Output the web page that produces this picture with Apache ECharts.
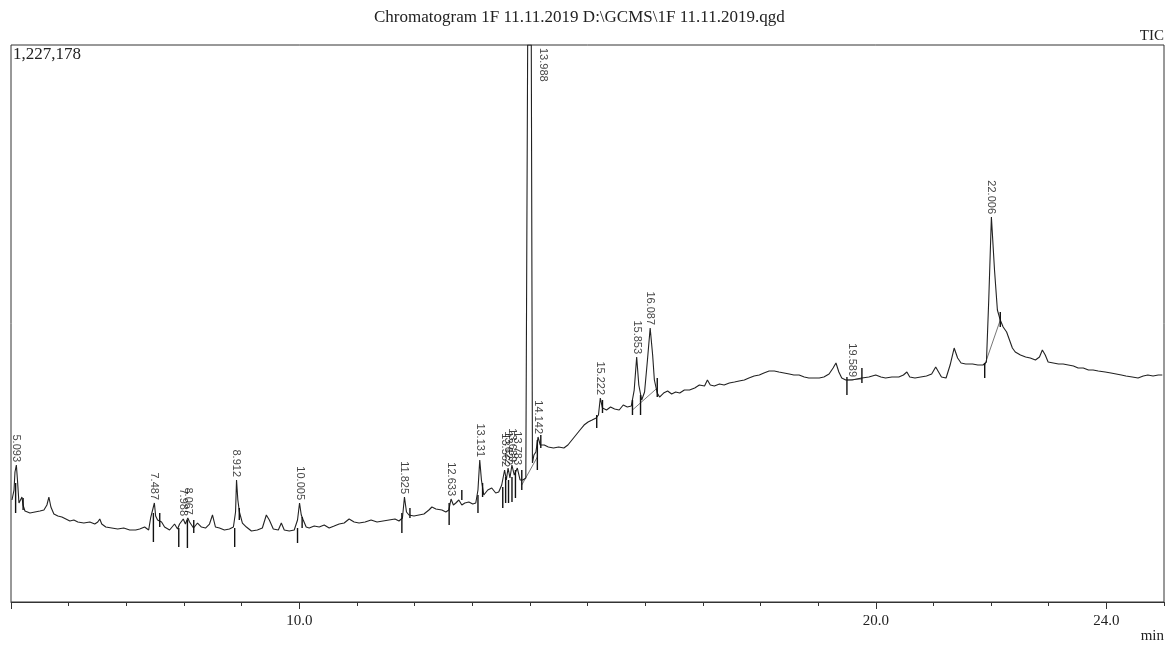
<!DOCTYPE html>
<html><head><meta charset="utf-8">
<script src="https://cdn.jsdelivr.net/npm/echarts@6/dist/echarts.min.js"></script>
<style>html,body{margin:0;padding:0;background:#fff}#c{width:1169px;height:646px}</style>
</head><body><div id="c"></div>
<script>
const chartTitle = 'Chromatogram 1F 11.11.2019 D:\\GCMS\\1F 11.11.2019.qgd';
const yMaxLabel = '1,227,178';
const yMax = 1227178;
const channelName = 'TIC';
const xUnit = 'min';
const xTickLabels = [10, 20, 24];
const xMajorTicks = [5, 10, 20, 24];

const retentionTimes = [
5.017,5.052,5.069,5.093,5.112,5.138,5.164,5.190,5.208,5.242,
5.329,5.415,5.502,5.571,5.623,5.657,5.692,5.744,5.813,5.882,
5.952,6.021,6.090,6.159,6.263,6.367,6.453,6.505,6.540,6.574,
6.644,6.747,6.851,6.955,7.059,7.163,7.232,7.318,7.388,7.422,
7.487,7.509,7.543,7.612,7.664,7.751,7.837,7.889,7.924,7.988,
8.025,8.067,8.097,8.166,8.235,8.304,8.374,8.443,8.495,8.547,
8.616,8.702,8.789,8.858,8.895,8.912,8.935,8.962,9.014,9.083,
9.170,9.273,9.360,9.429,9.481,9.550,9.637,9.689,9.740,9.827,
9.913,9.970,10.005,10.035,10.069,10.120,10.173,10.260,10.346,10.433,
10.519,10.606,10.692,10.779,10.865,10.952,11.038,11.142,11.246,11.349,
11.453,11.557,11.661,11.730,11.790,11.825,11.860,11.903,11.990,12.076,
12.163,12.249,12.301,12.370,12.474,12.543,12.595,12.633,12.674,12.716,
12.768,12.820,12.872,12.941,13.010,13.062,13.100,13.131,13.160,13.201,
13.270,13.339,13.408,13.460,13.512,13.562,13.592,13.622,13.655,13.689,
13.730,13.783,13.830,13.880,13.930,13.962,13.988,14.025,14.045,14.070,
14.105,14.142,14.180,14.250,14.320,14.410,14.500,14.590,14.660,14.730,
14.800,14.870,14.940,15.010,15.080,15.150,15.190,15.222,15.260,15.330,
15.400,15.470,15.550,15.620,15.690,15.760,15.810,15.853,15.890,15.940,
15.990,16.040,16.087,16.130,16.160,16.210,16.250,16.320,16.390,16.460,
16.530,16.600,16.680,16.770,16.860,16.940,17.030,17.080,17.130,17.200,
17.290,17.370,17.460,17.550,17.630,17.720,17.800,17.890,17.980,18.060,
18.150,18.240,18.320,18.410,18.500,18.580,18.670,18.760,18.840,18.930,
19.020,19.100,19.190,19.260,19.310,19.360,19.410,19.480,19.589,19.670,
19.760,19.880,20.000,20.090,20.170,20.280,20.400,20.480,20.540,20.590,
20.680,20.780,20.880,20.970,21.040,21.090,21.140,21.220,21.290,21.360,
21.420,21.480,21.560,21.680,21.770,21.860,21.920,21.960,22.006,22.060,
22.110,22.160,22.210,22.270,22.320,22.370,22.420,22.510,22.600,22.680,
22.770,22.840,22.890,22.940,22.990,23.080,23.170,23.250,23.340,23.430,
23.510,23.600,23.690,23.770,23.860,23.980,24.080,24.170,24.260,24.340,
24.450,24.550,24.640,24.720,24.810,24.900,24.970
];
const ticCounts = [
224700,246700,286400,301800,268800,218100,220300,231300,213700,200500,
196100,198300,200500,202700,213700,231300,209300,193900,189500,187300,
182800,178400,180600,176200,174000,176200,171800,176200,182800,171800,
165200,163000,160800,163000,158600,158600,160800,165200,158600,185100,
218100,189500,180600,176200,165200,158600,171800,160800,171800,182800,
171800,185100,176200,163000,174000,165200,163000,171800,191700,165200,
163000,158600,160800,165200,198300,268800,224700,198300,174000,165200,
156400,158600,163000,191700,180600,160800,158600,174000,158600,156400,
158600,180600,218100,191700,180600,165200,163000,167400,165200,169600,
163000,167400,171800,174000,182800,176200,174000,176200,180600,176200,
178400,180600,182800,178400,185100,231300,198300,191700,189500,191700,
193900,202700,209300,204900,202700,198300,202700,226900,213700,218100,
224700,213700,218100,220300,215900,218100,246700,312800,268800,235700,
246700,251100,240100,242300,257800,290800,268800,295200,273200,301800,
279800,295200,268800,268800,273200,1227178,1227178,1227178,306200,323800,
330500,363500,345900,345900,341500,339300,341500,339300,345900,356900,
367900,378900,389900,396500,400900,405400,412000,449400,427400,423000,
429600,425200,423000,434000,429600,431800,467000,539700,478100,445000,
462600,533100,603600,544100,489100,460400,451600,460400,464800,458200,
462600,460400,467000,467000,471400,478100,475800,489100,478100,475800,
480300,478100,482500,484700,486900,489100,493500,497900,500100,504500,
508900,508900,506700,504500,502300,500100,500100,495700,493500,493500,
493500,495700,502300,515500,526500,506700,493500,489100,489100,491300,
493500,495700,500100,495700,493500,495700,495700,500100,506700,495700,
493500,495700,497900,502300,517700,506700,495700,493500,522100,559600,
537500,526500,524300,524300,522100,522100,528700,665300,848200,731400,
643300,621200,605800,594800,577200,559600,550800,544100,539700,537500,
533100,539700,555200,544100,528700,526500,524300,524300,522100,519900,
515500,515500,511100,511100,508900,506700,504500,502300,500100,497900,
495700,493500,497900,500100,497900,500100,500100
];

// identified peaks (retention time labels)
const peakTimes = [5.093,7.487,7.988,8.067,8.912,10.005,11.825,12.633,13.131,13.562,13.622,13.689,13.783,13.988,14.142,15.222,15.853,16.087,19.589,22.006];

// integration start/end markers: time, low count, high count
const markerTimes = [5.08,5.21,7.47,7.58,7.91,8.06,8.17,8.88,8.96,9.97,10.05,11.78,11.92,12.60,12.82,13.10,13.18,13.53,13.58,13.63,13.69,13.75,13.86,14.13,14.19,15.16,15.26,15.78,15.92,16.21,19.50,19.76,21.89,22.16];
const markerLow  = [196100,202700,132200,165200,121200,119000,152000,121200,180600,130000,163000,152000,185100,169600,224700,196100,231300,207100,218100,218100,220300,229100,246700,290800,339300,383300,416400,412000,412000,451600,456000,482500,493500,605800];
const markerHigh = [262200,229100,196100,196100,163000,180600,180600,163000,207100,163000,187300,196100,207100,218100,246700,235700,262200,253300,275400,268800,275400,290800,290800,356900,367900,412000,445000,445000,456000,493500,495700,515500,526500,638900];

// drawn baselines: start time, start count, end time, end count
const baseStartT = [13.86,15.78,19.50,21.89];
const baseStartV = [257800,423000,489100,522100];
const baseEndT   = [14.13,16.21,19.76,22.16];
const baseEndV   = [319400,471400,491300,621200];

const serif = 'Liberation Serif';
const chart = echarts.init(document.getElementById('c'), null, {renderer:'canvas'});

const peakData = peakTimes.map(t => {
  const i = retentionTimes.indexOf(t);
  const item = {value:[t, ticCounts[i]]};
  if (ticCounts[i] >= yMax) {
    item.label = {position:[14, 3], align:'left', verticalAlign:'middle'};
  }
  return item;
});

chart.setOption({
  animation:false,
  backgroundColor:'#fff',
  grid:{left:11, right:5, top:45, bottom:44, show:true, borderColor:'#333', borderWidth:1, backgroundColor:'transparent'},
  xAxis:[
    {type:'value', min:5, max:25, interval:1, position:'bottom',
     axisLine:{lineStyle:{color:'#333', width:1}},
     axisTick:{length:4, lineStyle:{color:'#333', width:1}},
     axisLabel:{show:false}, splitLine:{show:false}},
    {type:'value', min:5, max:25, interval:1, position:'bottom',
     axisLine:{show:false},
     axisTick:{customValues:xMajorTicks, length:7, lineStyle:{color:'#333', width:1}},
     axisLabel:{customValues:xTickLabels, formatter:v=>v.toFixed(1), margin:12, color:'#222', fontFamily:serif, fontSize:15},
     splitLine:{show:false}}
  ],
  yAxis:{type:'value', min:0, max:yMax, axisLine:{show:false}, axisTick:{show:false}, axisLabel:{show:false}, splitLine:{show:false}},
  graphic:[
    {type:'text', left:374, top:9, style:{text:chartTitle, font:'17px "Liberation Serif"', fill:'#222'}},
    {type:'text', left:13, top:46, style:{text:yMaxLabel, font:'17px "Liberation Serif"', fill:'#222'}},
    {type:'text', right:5, top:29, style:{text:channelName, font:'15px "Liberation Serif"', fill:'#222'}},
    {type:'text', right:5, top:629, style:{text:xUnit, font:'15px "Liberation Serif"', fill:'#222'}}
  ],
  series:[
    {type:'line', xAxisIndex:0, data:retentionTimes.map((t,i)=>[t, ticCounts[i]]), showSymbol:false, symbol:'none',
     lineStyle:{color:'#222', width:1.1}, clip:true, z:3},
    {type:'custom', xAxisIndex:0, data:baseStartT.map((t,i)=>[t, baseStartV[i], baseEndT[i], baseEndV[i]]),
     renderItem:(p, api)=>{
       const a = api.coord([api.value(0), api.value(1)]);
       const b = api.coord([api.value(2), api.value(3)]);
       return {type:'line', shape:{x1:a[0], y1:a[1], x2:b[0], y2:b[1]}, style:{stroke:'#777', lineWidth:1}};
     }, z:2},
    {type:'custom', xAxisIndex:0, data:markerTimes.map((t,i)=>[t, markerLow[i], markerHigh[i]]),
     renderItem:(p, api)=>{
       const a = api.coord([api.value(0), api.value(1)]);
       const b = api.coord([api.value(0), api.value(2)]);
       return {type:'line', shape:{x1:a[0], y1:a[1], x2:b[0], y2:b[1]}, style:{stroke:'#111', lineWidth:1.4}};
     }, z:4},
    {type:'scatter', xAxisIndex:0, data:peakData, symbolSize:0, silent:true,
     label:{show:true, position:'top', distance:3, rotate:-90, align:'right', verticalAlign:'middle',
            formatter:p=>p.value[0].toFixed(3), fontFamily:'Liberation Sans', fontSize:11, color:'#111'}, z:5}
  ]
});
</script>
</body></html>
